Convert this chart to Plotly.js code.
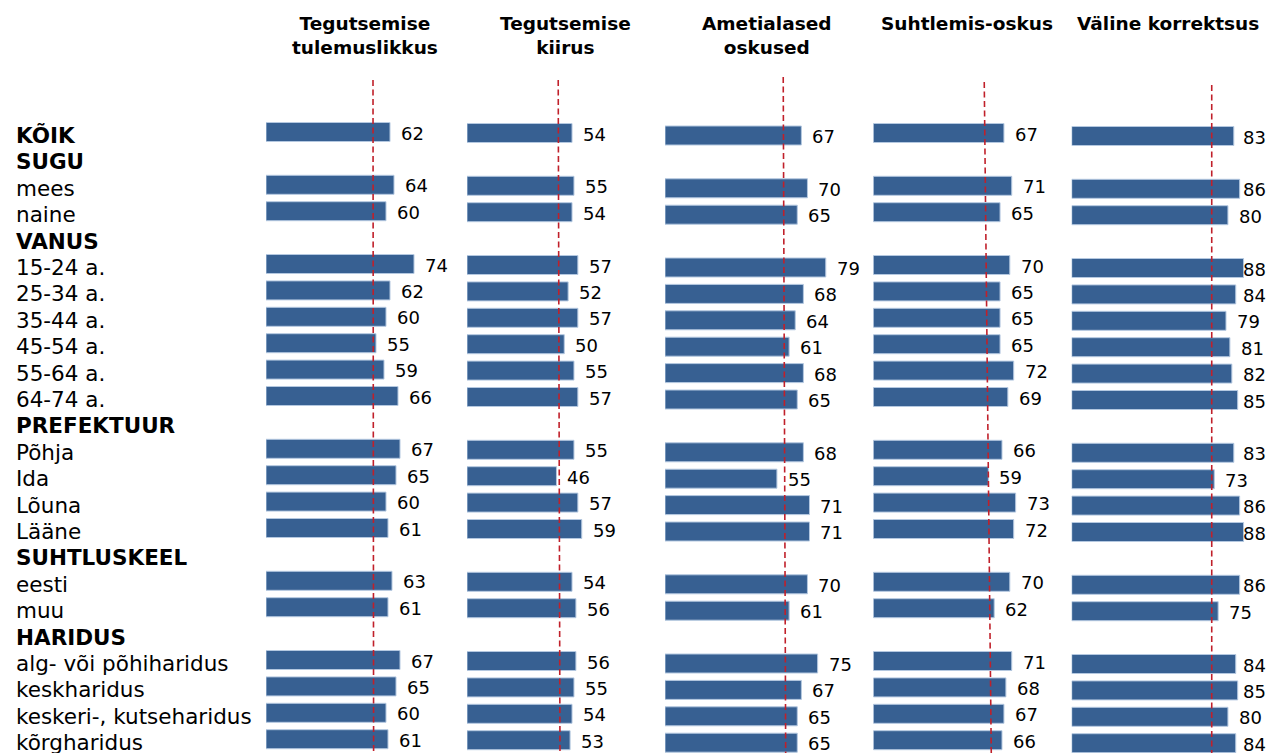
<!DOCTYPE html>
<html>
<head>
<meta charset="utf-8">
<script src="https://cdn.plot.ly/plotly-3.0.1.min.js"></script>
<style>html,body{margin:0;padding:0;background:#fff;}#chart{width:1267px;height:753px;}</style>
</head>
<body>
<div id="chart"></div>
<script>
// ---- data ----
const rowLabels = ['KÕIK','SUGU','mees','naine','VANUS','15-24 a.','25-34 a.','35-44 a.','45-54 a.','55-64 a.','64-74 a.',
  'PREFEKTUUR','Põhja','Ida','Lõuna','Lääne','SUHTLUSKEEL','eesti','muu','HARIDUS',
  'alg- või põhiharidus','keskharidus','keskeri-, kutseharidus','kõrgharidus'];
const headerRows = ['KÕIK','SUGU','VANUS','PREFEKTUUR','SUHTLUSKEEL','HARIDUS'];
const panelTitles = ['Tegutsemise<br>tulemuslikkus','Tegutsemise<br>kiirus','Ametialased<br>oskused','Suhtlemis-oskus','Väline korrektsus'];
const tulemuslikkus = [62,null,64,60,null,74,62,60,55,59,66,null,67,65,60,61,null,63,61,null,67,65,60,61];
const kiirus        = [54,null,55,54,null,57,52,57,50,55,57,null,55,46,57,59,null,54,56,null,56,55,54,53];
const ametialased   = [67,null,70,65,null,79,68,64,61,68,65,null,68,55,71,71,null,70,61,null,75,67,65,65];
const suhtlemis     = [67,null,71,65,null,70,65,65,65,72,69,null,66,59,73,72,null,70,62,null,71,68,67,66];
const korrektsus    = [83,null,86,80,null,88,84,79,81,82,85,null,83,73,86,88,null,86,75,null,84,85,80,84];
// dashed reference line (value at top and at bottom of each panel)
const refTop    = [53.5, 46.9, 58.1, 56.9, 71.7];
const refBottom = [53.8, 47.8, 59.3, 60.5, 71.7];

// ---- layout geometry (pixels) ----
const W = 1267, H = 753;
const panels = [
  {vals: tulemuslikkus, x0: 266,    scale: 2.0,   xEnd: 462,  row0: 132,   lineTop: 80},
  {vals: kiirus,        x0: 467,    scale: 1.945, xEnd: 660,  row0: 133,   lineTop: 80},
  {vals: ametialased,   x0: 665,    scale: 2.035, xEnd: 868,  row0: 135.5, lineTop: 77},
  {vals: suhtlemis,     x0: 873.3,  scale: 1.95,  xEnd: 1068, row0: 133,   lineTop: 82},
  {vals: korrektsus,    x0: 1071.7, scale: 1.953, xEnd: 1267, row0: 136,   lineTop: 85}
];
const titleCx = [365, 565, 766, 967, 1168];
const pitch = 26.4;
const labelMaxPx = 1242; // labels kept inside the page
const gapPx = 10;

const FONT = 'DejaVu Sans, Verdana, sans-serif';
const traces = [], annotations = [], shapes = [];
const layout = {
  width: W, height: H, margin: {l:0, r:0, t:0, b:0},
  paper_bgcolor: '#fff', plot_bgcolor: 'rgba(0,0,0,0)',
  showlegend: false, bargap: 0.28, font: {family: FONT, color: '#000'}
};
const yIdx = rowLabels.map((_, i) => i);

panels.forEach((p, k) => {
  const n = k === 0 ? '' : String(k + 1);
  const xr = (p.xEnd - p.x0) / p.scale;
  layout['xaxis' + n] = {domain: [p.x0 / W, p.xEnd / W], range: [0, xr], showgrid: false, zeroline: false,
    showticklabels: false, ticks: '', showline: false, fixedrange: true};
  layout['yaxis' + n] = {domain: [0, 1], range: [(H - p.row0) / pitch, -p.row0 / pitch], showgrid: false,
    zeroline: false, showticklabels: false, ticks: '', showline: false, fixedrange: true,
    anchor: 'x' + n};
  traces.push({
    type: 'bar', orientation: 'h', x: p.vals, y: yIdx, xaxis: 'x' + n, yaxis: 'y' + n,
    width: 0.72, marker: {color: '#376092', line: {color: '#B4C8E0', width: 1}},
    hoverinfo: 'x'
  });
  // value labels
  const maxData = (labelMaxPx - gapPx - p.x0) / p.scale;
  p.vals.forEach((v, i) => {
    if (v === null) return;
    annotations.push({
      xref: 'x' + n, yref: 'y' + n, x: Math.min(v, maxData), y: i, xanchor: 'left', yanchor: 'middle',
      xshift: gapPx, yshift: -1, text: String(v), showarrow: false, borderpad: 0,
      font: {family: FONT, size: 18, color: '#000'}
    });
  });
  // reference line
  shapes.push({
    type: 'line', xref: 'x' + n, yref: 'paper', x0: refTop[k], x1: refBottom[k],
    y0: 1 - p.lineTop / H, y1: 0,
    line: {color: '#C0202A', width: 1.6, dash: '6px,3.5px'}
  });
  // panel title
  annotations.push({
    xref: 'paper', yref: 'paper', x: titleCx[k] / W, y: 1 - 11 / H, xanchor: 'center', yanchor: 'top',
    text: '<b>' + panelTitles[k] + '</b>', showarrow: false, align: 'center',
    font: {family: FONT, size: 18.5, color: '#000'}
  });
});

// row labels
rowLabels.forEach((lab, i) => {
  const bold = headerRows.includes(lab);
  annotations.push({
    xref: 'paper', yref: 'y', x: 15 / W, y: i, xanchor: 'left', yanchor: 'middle', yshift: -3.5,
    text: bold ? '<b>' + lab + '</b>' : lab, showarrow: false, borderpad: 0,
    font: {family: FONT, size: 21.5, color: '#000'}
  });
});

layout.annotations = annotations;
layout.shapes = shapes;
Plotly.newPlot('chart', traces, layout, {displayModeBar: false, staticPlot: true});
</script>
</body>
</html>
